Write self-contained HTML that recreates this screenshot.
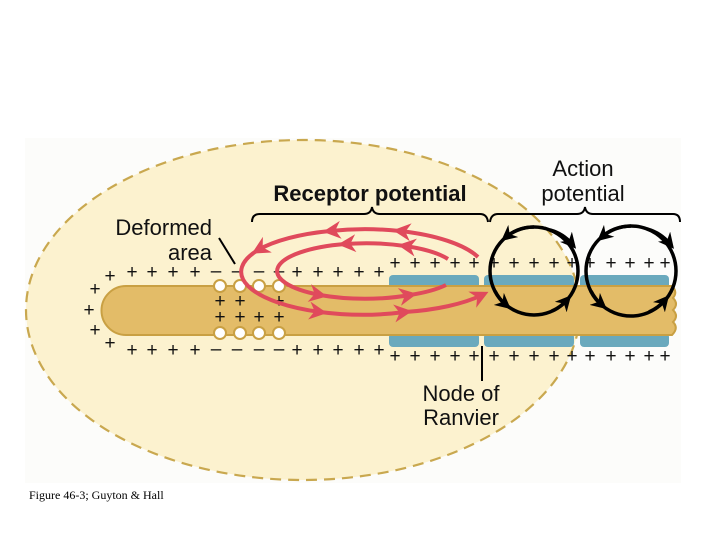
<!DOCTYPE html>
<html><head><meta charset="utf-8"><style>
html,body{margin:0;padding:0;background:#fff;width:720px;height:540px;overflow:hidden}
svg{display:block}
text{font-family:"Liberation Sans",sans-serif}
</style></head><body>
<svg width="720" height="540" viewBox="0 0 720 540" xmlns="http://www.w3.org/2000/svg">
<defs>
<marker id="ar" viewBox="0 0 10 10" refX="6" refY="5" markerWidth="4.5" markerHeight="4.5" orient="auto" markerUnits="strokeWidth"><path d="M0,0 L10,5 L0,10 L3,5 z" fill="#e04a5c"/></marker>
<marker id="ab" viewBox="0 0 10 10" refX="6" refY="5" markerWidth="4.5" markerHeight="4.5" orient="auto" markerUnits="strokeWidth"><path d="M0,0 L10,5 L0,10 L3,5 z" fill="#000"/></marker>
</defs>
<rect x="25" y="138" width="656" height="345" fill="#fcfcfa"/>
<ellipse cx="303" cy="310" rx="277" ry="170" fill="#fcf2cf" stroke="#c9a84f" stroke-width="2.2" stroke-dasharray="11,7"/>
<g fill="#6aa9bd">
<rect x="389" y="275" width="90" height="14" rx="4"/><rect x="484" y="275" width="90" height="14" rx="4"/><rect x="580" y="275" width="89" height="14" rx="4"/>
<rect x="389" y="333" width="90" height="14" rx="4"/><rect x="484" y="333" width="90" height="14" rx="4"/><rect x="580" y="333" width="89" height="14" rx="4"/>
</g>
<path d="M126,286 L672,286 Q678,292 673,298 Q679,304 673,310 Q679,316 673,322 Q679,328 672,335 L126,335 A24.5,24.5 0 0 1 126,286 Z" fill="#e3bc68" stroke="#c9a043" stroke-width="2"/>
<g fill="#fff" stroke="#c9a043" stroke-width="2">
<circle cx="220" cy="286" r="6"/><circle cx="240" cy="286" r="6"/><circle cx="259" cy="286" r="6"/><circle cx="279" cy="286" r="6"/>
<circle cx="220" cy="333" r="6"/><circle cx="240" cy="333" r="6"/><circle cx="259" cy="333" r="6"/><circle cx="279" cy="333" r="6"/>
</g>
<g font-size="19" fill="#111" text-anchor="middle">
<text x="110" y="282">+</text><text x="132" y="278">+</text><text x="152" y="278">+</text><text x="173" y="278">+</text><text x="195" y="278">+</text>
<text x="216" y="277">–</text><text x="237" y="277">–</text><text x="259" y="277">–</text><text x="279" y="277">–</text>
<text x="297" y="278">+</text><text x="318" y="278">+</text><text x="338" y="278">+</text><text x="359" y="278">+</text><text x="379" y="278">+</text>
<text x="395" y="269">+</text><text x="415" y="269">+</text><text x="435" y="269">+</text><text x="455" y="269">+</text><text x="474" y="269">+</text>
<text x="494" y="269">+</text><text x="514" y="269">+</text><text x="534" y="269">+</text><text x="554" y="269">+</text><text x="572" y="269">+</text>
<text x="590" y="269">+</text><text x="611" y="269">+</text><text x="630" y="269">+</text><text x="649" y="269">+</text><text x="665" y="269">+</text>
<text x="95" y="295">+</text><text x="89" y="316">+</text><text x="95" y="336">+</text><text x="110" y="349">+</text>
<text x="132" y="356">+</text><text x="152" y="356">+</text><text x="173" y="356">+</text><text x="195" y="356">+</text>
<text x="216" y="355">–</text><text x="237" y="355">–</text><text x="259" y="355">–</text><text x="279" y="355">–</text>
<text x="297" y="356">+</text><text x="318" y="356">+</text><text x="338" y="356">+</text><text x="359" y="356">+</text><text x="379" y="356">+</text>
<text x="395" y="362">+</text><text x="415" y="362">+</text><text x="435" y="362">+</text><text x="455" y="362">+</text><text x="474" y="362">+</text>
<text x="494" y="362">+</text><text x="514" y="362">+</text><text x="534" y="362">+</text><text x="554" y="362">+</text><text x="572" y="362">+</text>
<text x="590" y="362">+</text><text x="611" y="362">+</text><text x="630" y="362">+</text><text x="649" y="362">+</text><text x="665" y="362">+</text>
<text x="220" y="307">+</text><text x="240" y="307">+</text><text x="279" y="307">+</text>
<text x="220" y="323">+</text><text x="240" y="323">+</text><text x="259" y="323">+</text><text x="279" y="323">+</text>
</g>
<!-- red loops: outer ellipse c(363,272) rx122 ry43 ; inner c(366,271) rx90 ry28 -->
<g fill="none" stroke="#e04a5c" stroke-width="4">
<path d="M478,257 A122,43 0 0 0 400,231" marker-end="url(#ar)"/>
<path d="M400,231 A122,43 0 0 0 330,231" marker-end="url(#ar)"/>
<path d="M330,231 A122,43 0 0 0 258,250" marker-end="url(#ar)"/>
<path d="M258,250 A122,43 0 0 0 320,312" marker-end="url(#ar)"/>
<path d="M320,312 A122,43 0 0 0 405,312" marker-end="url(#ar)"/>
<path d="M405,312 A122,43 0 0 0 482,295" marker-end="url(#ar)"/>
<path d="M448,259 A90,28 0 0 0 405,246" marker-end="url(#ar)"/>
<path d="M405,246 A90,28 0 0 0 345,244" marker-end="url(#ar)"/>
<path d="M345,244 A90,28 0 0 0 320,295" marker-end="url(#ar)"/>
<path d="M320,295 A90,28 0 0 0 410,295" marker-end="url(#ar)"/>
<path d="M410,295 A90,28 0 0 0 446,285"/>
</g>
<!-- black circles -->
<g fill="none" stroke="#000" stroke-width="3.5">
<circle cx="534" cy="271" r="44"/><circle cx="631" cy="271" r="45"/>
<!-- circle1 markers: c(534,271) r44 -->
<path d="M534,227 A44,44 0 0 0 506,237" marker-end="url(#ab)"/>
<path d="M495,291 A44,44 0 0 0 506,305" marker-end="url(#ab)"/>
<path d="M552,311 A44,44 0 0 0 567,300" marker-end="url(#ab)"/>
<path d="M550,230 A44,44 0 0 1 572,244" marker-end="url(#ab)"/>
<!-- circle2 markers: c(631,271) r45 -->
<path d="M631,226 A45,45 0 0 0 602,237" marker-end="url(#ab)"/>
<path d="M591,291 A45,45 0 0 0 602,305" marker-end="url(#ab)"/>
<path d="M649,312 A45,45 0 0 0 665,300" marker-end="url(#ab)"/>
<path d="M647,229 A45,45 0 0 1 670,244" marker-end="url(#ab)"/>
</g>
<g fill="none" stroke="#000" stroke-width="2">
<path d="M252,222 Q252,214 260,214 L364,214 Q371,214 372,207 Q373,214 380,214 L480,214 Q487,214 488,222"/>
<path d="M490,222 Q491,214 498,214 L577,214 Q584,214 585,207 Q586,214 593,214 L673,214 Q680,214 680,222"/>
<path d="M219,238 L235,264"/>
<path d="M482,346 L482,381"/>
</g>
<text x="370" y="201" font-size="22" font-weight="bold" text-anchor="middle" fill="#111">Receptor potential</text>
<text x="583" y="176" font-size="22" text-anchor="middle" fill="#111">Action</text>
<text x="583" y="201" font-size="22" text-anchor="middle" fill="#111">potential</text>
<text x="212" y="235" font-size="22" text-anchor="end" fill="#111">Deformed</text>
<text x="212" y="260" font-size="22" text-anchor="end" fill="#111">area</text>
<text x="461" y="401" font-size="22" text-anchor="middle" fill="#111">Node of</text>
<text x="461" y="425" font-size="22" text-anchor="middle" fill="#111">Ranvier</text>
<text x="29" y="499" font-size="12" fill="#000" style="font-family:'Liberation Serif',serif">Figure 46-3; Guyton &amp; Hall</text>
</svg>
</body></html>
